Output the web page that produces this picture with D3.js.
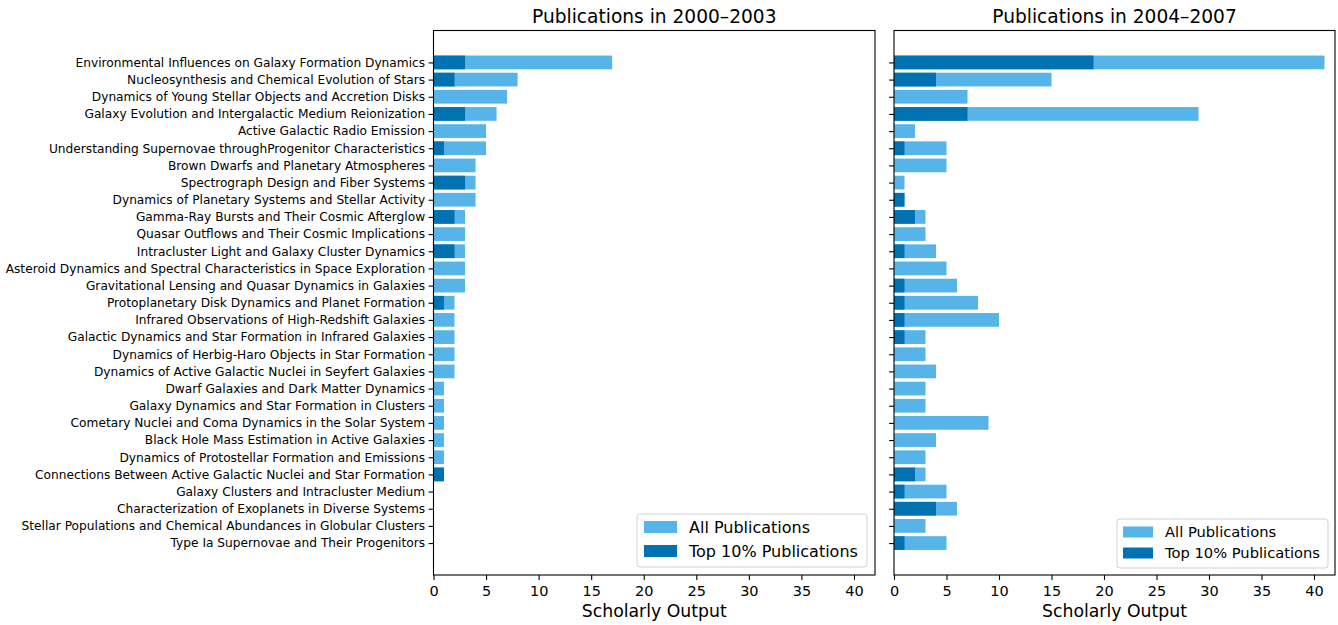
<!DOCTYPE html>
<html lang="en">
<head>
<meta charset="UTF-8">
<title>Publications</title>
<script src="https://d3js.org/d3.v7.min.js"></script>
<style>
  body { margin: 0; background: #fff; }
  text { font-family: "DejaVu Sans", sans-serif; fill: #000; }
</style>
</head>
<body>
<script>

var categories = [
  "Environmental Influences on Galaxy Formation Dynamics",
  "Nucleosynthesis and Chemical Evolution of Stars",
  "Dynamics of Young Stellar Objects and Accretion Disks",
  "Galaxy Evolution and Intergalactic Medium Reionization",
  "Active Galactic Radio Emission",
  "Understanding Supernovae throughProgenitor Characteristics",
  "Brown Dwarfs and Planetary Atmospheres",
  "Spectrograph Design and Fiber Systems",
  "Dynamics of Planetary Systems and Stellar Activity",
  "Gamma-Ray Bursts and Their Cosmic Afterglow",
  "Quasar Outflows and Their Cosmic Implications",
  "Intracluster Light and Galaxy Cluster Dynamics",
  "Asteroid Dynamics and Spectral Characteristics in Space Exploration",
  "Gravitational Lensing and Quasar Dynamics in Galaxies",
  "Protoplanetary Disk Dynamics and Planet Formation",
  "Infrared Observations of High-Redshift Galaxies",
  "Galactic Dynamics and Star Formation in Infrared Galaxies",
  "Dynamics of Herbig-Haro Objects in Star Formation",
  "Dynamics of Active Galactic Nuclei in Seyfert Galaxies",
  "Dwarf Galaxies and Dark Matter Dynamics",
  "Galaxy Dynamics and Star Formation in Clusters",
  "Cometary Nuclei and Coma Dynamics in the Solar System",
  "Black Hole Mass Estimation in Active Galaxies",
  "Dynamics of Protostellar Formation and Emissions",
  "Connections Between Active Galactic Nuclei and Star Formation",
  "Galaxy Clusters and Intracluster Medium",
  "Characterization of Exoplanets in Diverse Systems",
  "Stellar Populations and Chemical Abundances in Globular Clusters",
  "Type Ia Supernovae and Their Progenitors"
];

var all2000 = [17, 8, 7, 6, 5, 5, 4, 4, 4, 3, 3, 3, 3, 3, 2, 2, 2, 2, 2, 1, 1, 1, 1, 1, 1, 0, 0, 0, 0];
var top2000 = [3, 2, 0, 3, 0, 1, 0, 3, 0, 2, 0, 2, 0, 0, 1, 0, 0, 0, 0, 0, 0, 0, 0, 0, 1, 0, 0, 0, 0];
var all2004 = [41, 15, 7, 29, 2, 5, 5, 1, 1, 3, 3, 4, 5, 6, 8, 10, 3, 3, 4, 3, 3, 9, 4, 3, 3, 5, 6, 3, 5];
var top2004 = [19, 4, 0, 7, 0, 1, 0, 0, 1, 2, 0, 1, 0, 1, 1, 1, 1, 0, 0, 0, 0, 0, 0, 0, 2, 1, 4, 0, 1];

var titles = ["Publications in 2000\u20132003", "Publications in 2004\u20132007"];
var seriesNames = ["All Publications", "Top 10% Publications"];
var xTicks = [0, 5, 10, 15, 20, 25, 30, 35, 40];

var colorAll = "#56B4E9";
var colorTop = "#0072B2";

var W = 1338, H = 625;
var plotTop = 30.5, plotBottom = 575;

var svg = d3.select("body").append("svg")
    .attr("width", W)
    .attr("height", H);

var panels = [
  { left: 433.5, right: 875, all: all2000, top10: top2000, title: titles[0], showLabels: true,
    legend: { x: 637, y: 514, w: 230, h: 53, font: 16, hx: 644, hw: 33, hh: 12, tx: 689, rows: [527, 551] } },
  { left: 894, right: 1335, all: all2004, top10: top2004, title: titles[1], showLabels: false,
    legend: { x: 1117, y: 519, w: 211, h: 49, font: 14.7, hx: 1123, hw: 30, hh: 11, tx: 1165, rows: [532, 553] } }
];

var y = d3.scaleLinear()
    .domain([-1.86, categories.length - 1 + 1.86])
    .range([plotTop, plotBottom]);
var barH = (y(0.4) - y(-0.4));

panels.forEach(function (p) {
  var x = d3.scaleLinear()
      .domain([0, 42])
      .range([p.left, p.right]);

  var g = svg.append("g");

  // light bars (all publications)
  g.selectAll(".all")
      .data(p.all)
      .enter()
      .append("rect")
      .attr("x", x(0))
      .attr("y", function (d, i) { return y(i) - barH / 2; })
      .attr("width", function (d) { return x(d) - x(0); })
      .attr("height", barH)
      .attr("fill", colorAll);

  // dark bars (top 10%), drawn over from zero
  g.selectAll(".top")
      .data(p.top10)
      .enter()
      .append("rect")
      .attr("x", x(0))
      .attr("y", function (d, i) { return y(i) - barH / 2; })
      .attr("width", function (d) { return x(d) - x(0); })
      .attr("height", barH)
      .attr("fill", colorTop);

  // frame
  g.append("rect")
      .attr("x", p.left)
      .attr("y", plotTop)
      .attr("width", p.right - p.left)
      .attr("height", plotBottom - plotTop)
      .attr("fill", "none")
      .attr("stroke", "#000")
      .attr("stroke-width", 1.1);

  // x axis
  var xAxis = d3.axisBottom(x)
      .tickValues(xTicks)
      .tickSize(4.9)
      .tickPadding(6);
  var xa = g.append("g")
      .attr("transform", "translate(0," + plotBottom + ")")
      .call(xAxis);
  xa.select(".domain").remove();
  xa.attr("font-size", null).attr("font-family", null);
  xa.selectAll("line").attr("stroke", "#000").attr("stroke-width", 1.1);
  xa.selectAll("text").style("font-size", "14.5px");

  // y axis
  var yAxis = d3.axisLeft(y)
      .tickValues(d3.range(categories.length))
      .tickSize(4.9)
      .tickPadding(3.5)
      .tickFormat(function (i) { return p.showLabels ? categories[i] : ""; });
  var ya = g.append("g")
      .attr("transform", "translate(" + p.left + ",0)")
      .call(yAxis);
  ya.select(".domain").remove();
  ya.attr("font-size", null).attr("font-family", null);
  ya.selectAll("line").attr("stroke", "#000").attr("stroke-width", 1.1);
  ya.selectAll("text").style("font-size", "12.2px");

  // title and axis label
  g.append("text")
      .attr("x", (p.left + p.right) / 2)
      .attr("y", 22.5)
      .attr("text-anchor", "middle")
      .style("font-size", "18.6px")
      .text(p.title);

  g.append("text")
      .attr("x", (p.left + p.right) / 2)
      .attr("y", 617)
      .attr("text-anchor", "middle")
      .style("font-size", "17.3px")
      .text("Scholarly Output");

  // legend
  var L = p.legend;
  var lg = g.append("g");
  lg.append("rect")
      .attr("x", L.x)
      .attr("y", L.y)
      .attr("width", L.w)
      .attr("height", L.h)
      .attr("rx", 3)
      .attr("fill", "#fff")
      .attr("fill-opacity", 0.8)
      .attr("stroke", "#d0d0d0");
  [colorAll, colorTop].forEach(function (c, k) {
    lg.append("rect")
        .attr("x", L.hx)
        .attr("y", L.rows[k] - L.hh / 2)
        .attr("width", L.hw)
        .attr("height", L.hh)
        .attr("fill", c);
    lg.append("text")
        .attr("x", L.tx)
        .attr("y", L.rows[k])
        .attr("dy", "0.35em")
        .style("font-size", L.font + "px")
        .text(seriesNames[k]);
  });
});

</script>
</body>
</html>
